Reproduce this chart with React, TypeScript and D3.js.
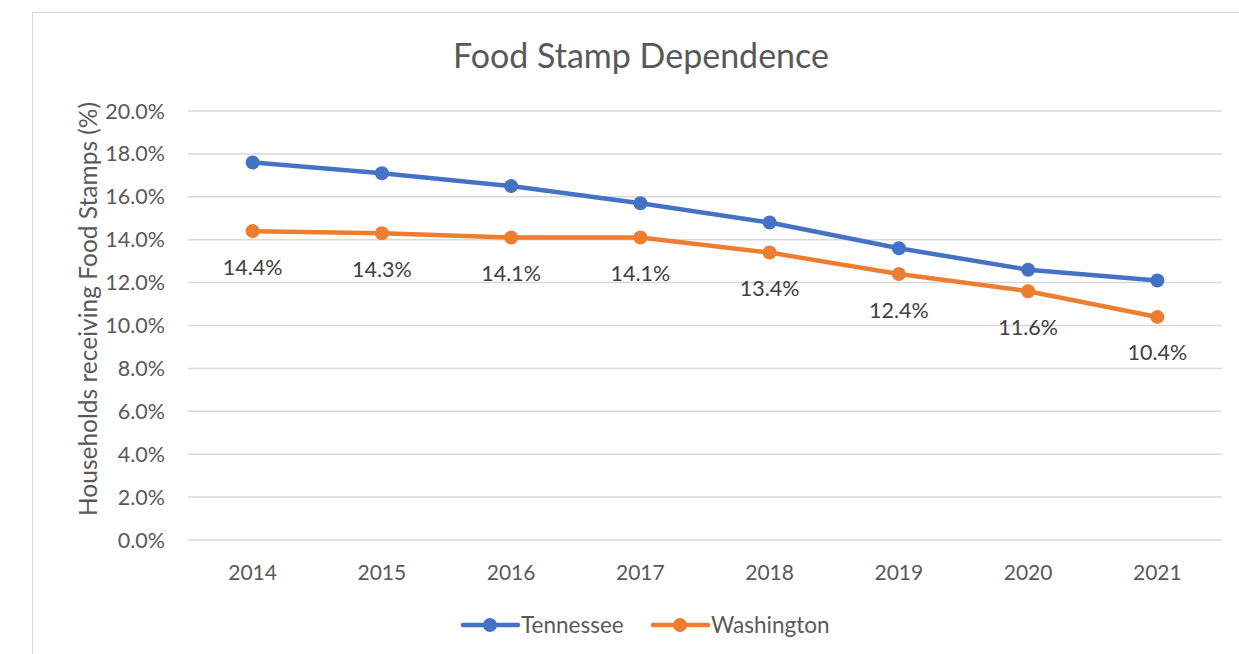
import React, { useRef, useEffect } from 'react';
import * as d3 from 'd3';

const years = ['2014', '2015', '2016', '2017', '2018', '2019', '2020', '2021'];
const tennessee = [17.6, 17.1, 16.5, 15.7, 14.8, 13.6, 12.6, 12.1];
const washington = [14.4, 14.3, 14.1, 14.1, 13.4, 12.4, 11.6, 10.4];
const yTicks = [0, 2, 4, 6, 8, 10, 12, 14, 16, 18, 20];

const seriesList = [
  { name: 'Tennessee', values: tennessee, color: '#4472C4', labels: false },
  { name: 'Washington', values: washington, color: '#ED7D31', labels: true },
];

const width = 1239;
const height = 654;
const font = 'Lato, "Open Sans", sans-serif';

const App: React.FC = () => {
  const ref = useRef<SVGSVGElement>(null);

  useEffect(() => {
    if (!ref.current) return;
    const svg = d3.select(ref.current);
    svg.selectAll('*').remove();

    // chart frame
    svg.append('rect')
      .attr('x', 32.5).attr('y', 12.5)
      .attr('width', width).attr('height', height)
      .attr('fill', '#fff').attr('stroke', '#d9d9d9');

    const x = d3.scaleBand().domain(years).range([188, 1222]);
    const y = d3.scaleLinear().domain([0, 20]).range([540, 111]);

    svg.append('text')
      .attr('x', 641).attr('y', 68)
      .attr('text-anchor', 'middle')
      .attr('font-family', font).attr('font-size', 34)
      .attr('fill', '#595959')
      .text('Food Stamp Dependence');

    const grid = svg.append('g');
    yTicks.forEach(t => {
      grid.append('line')
        .attr('x1', 188).attr('x2', 1222)
        .attr('y1', y(t)).attr('y2', y(t))
        .attr('stroke', '#d9d9d9').attr('stroke-width', 1.5);
      grid.append('text')
        .attr('x', 165).attr('y', y(t)).attr('dy', '0.35em')
        .attr('text-anchor', 'end')
        .attr('font-family', font).attr('font-size', 21.5)
        .attr('fill', '#595959')
        .text(t.toFixed(1) + '%');
    });

    years.forEach(yr => {
      svg.append('text')
        .attr('x', x(yr)! + x.bandwidth() / 2).attr('y', 580)
        .attr('text-anchor', 'middle')
        .attr('font-family', font).attr('font-size', 21)
        .attr('fill', '#595959')
        .text(yr);
    });

    svg.append('text')
      .attr('transform', 'translate(97, 309) rotate(-90)')
      .attr('text-anchor', 'middle')
      .attr('font-family', font).attr('font-size', 24.5)
      .attr('fill', '#595959')
      .text('Households receiving Food Stamps (%)');

    const cx = (i: number) => x(years[i])! + x.bandwidth() / 2;
    const line = d3.line<number>()
      .x((_, i) => cx(i))
      .y(d => y(d));

    seriesList.forEach(s => {
      svg.append('path')
        .datum(s.values)
        .attr('fill', 'none')
        .attr('stroke', s.color)
        .attr('stroke-width', 4.5)
        .attr('stroke-linejoin', 'round')
        .attr('d', line);
      s.values.forEach((v, i) => {
        svg.append('circle')
          .attr('cx', cx(i)).attr('cy', y(v)).attr('r', 7)
          .attr('fill', s.color);
        if (s.labels) {
          svg.append('text')
            .attr('x', cx(i)).attr('y', y(v) + 36).attr('dy', '0.35em')
            .attr('text-anchor', 'middle')
            .attr('font-family', font).attr('font-size', 21.5)
            .attr('fill', '#404040')
            .text(v.toFixed(1) + '%');
        }
      });
    });

    // legend
    const legendX = [463, 653];
    seriesList.forEach((s, i) => {
      const lx = legendX[i];
      svg.append('line')
        .attr('x1', lx).attr('x2', lx + 55)
        .attr('y1', 625).attr('y2', 625)
        .attr('stroke', s.color).attr('stroke-width', 4.5)
        .attr('stroke-linecap', 'round');
      svg.append('circle')
        .attr('cx', lx + 27).attr('cy', 625).attr('r', 7)
        .attr('fill', s.color);
      svg.append('text')
        .attr('x', lx + 58).attr('y', 625).attr('dy', '0.35em')
        .attr('font-family', font).attr('font-size', 22.5)
        .attr('fill', '#595959')
        .text(s.name);
    });
  }, []);

  return (
    <svg ref={ref} width={width} height={height}
      style={{ position: 'absolute', left: 0, top: 0 }} />
  );
};

export default App;
